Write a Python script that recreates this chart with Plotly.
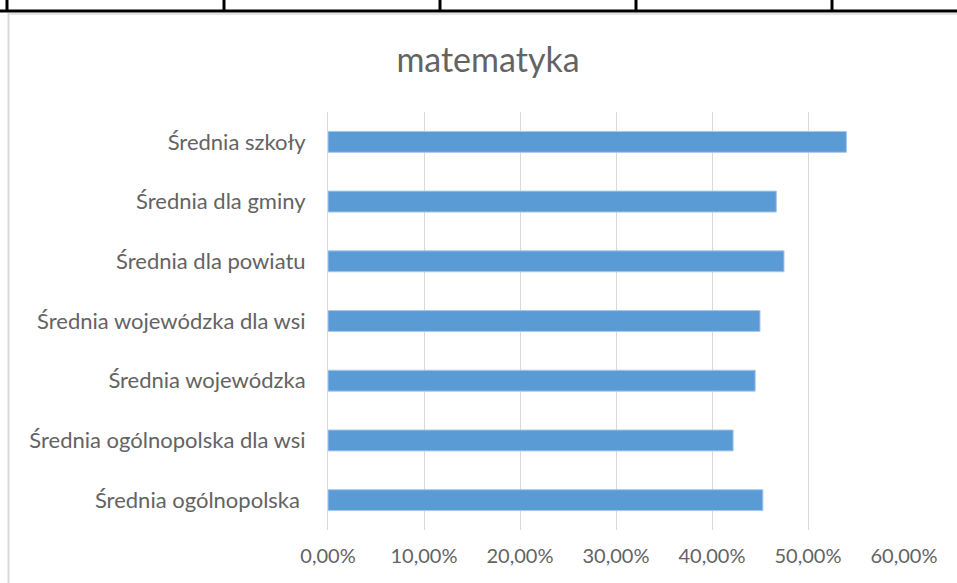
import plotly.graph_objects as go

categories = [
    "Średnia szkoły",
    "Średnia dla gminy",
    "Średnia dla powiatu",
    "Średnia wojewódzka dla wsi",
    "Średnia wojewódzka",
    "Średnia ogólnopolska dla wsi",
    "Średnia ogólnopolska\u00a0",
]
values = [0.540, 0.467, 0.475, 0.450, 0.445, 0.422, 0.453]
x_ticks = [0, 0.1, 0.2, 0.3, 0.4, 0.5, 0.6]

W, H = 957, 583
L, R, T, B = 328, 53, 112, 53
pw, ph = W - L - R, H - T - B

def px(x):
    return (x - L) / pw

def py(y):
    return (H - B - y) / ph

fig = go.Figure(go.Bar(
    x=values, y=categories, orientation="h",
    marker=dict(color="#5b9bd5", line=dict(color="#a6c8ec", width=1)),
))

shapes = []
# table border lines at top
shapes.append(dict(type="line", xref="paper", yref="paper", x0=px(0), x1=px(W), y0=py(11), y1=py(11),
                   line=dict(color="black", width=3)))
for xv in [7, 224, 440, 636, 832]:
    shapes.append(dict(type="line", xref="paper", yref="paper", x0=px(xv), x1=px(xv), y0=py(-2), y1=py(11),
                       line=dict(color="black", width=3)))
# chart area border (light grey)
shapes.append(dict(type="line", xref="paper", yref="paper", x0=px(8), x1=px(W), y0=py(14), y1=py(14),
                   line=dict(color="#e4e4e4", width=2)))
shapes.append(dict(type="line", xref="paper", yref="paper", x0=px(8.5), x1=px(8.5), y0=py(13), y1=py(H + 2),
                   line=dict(color="#d9d9d9", width=2)))

fig.update_layout(
    width=W, height=H,
    margin=dict(l=L, r=R, t=T, b=B, pad=0),
    paper_bgcolor="white", plot_bgcolor="white",
    separators=",.",
    showlegend=False,
    bargap=0.65,
    font=dict(family="Lato, Carlito, Calibri, sans-serif", color="#636363", size=20),
    title=dict(text="matematyka", x=488 / W, xanchor="center", y=1 - 60 / H, yanchor="middle",
               font=dict(size=34, color="#636363")),
    xaxis=dict(range=[0, 0.6], tickvals=x_ticks, tickformat=".2%", showgrid=True,
               gridcolor="#d9d9d9", gridwidth=1, zeroline=False, showline=False,
               ticklabelstandoff=12, tickfont=dict(size=20)),
    yaxis=dict(autorange="reversed", showgrid=False, showline=True, linecolor="#d9d9d9",
               linewidth=1, ticklabelstandoff=17, tickfont=dict(size=22)),
    shapes=shapes,
)
fig.write_html("out.html", config={"displayModeBar": False},
               post_script="document.body.style.margin='0';document.body.style.overflow='hidden';")
